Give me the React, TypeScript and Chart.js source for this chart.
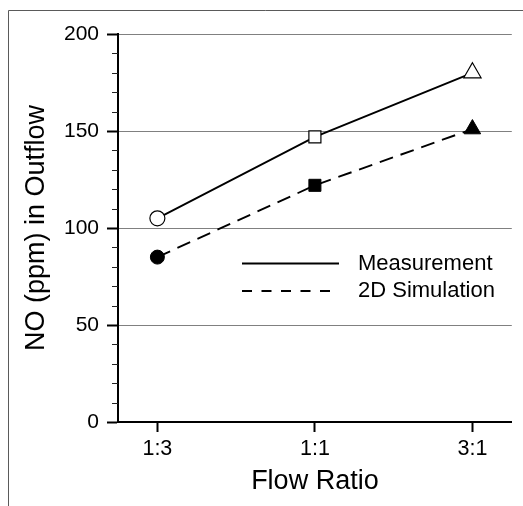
import React, { useEffect, useRef } from "react";
import { Chart, registerables } from "chart.js";

Chart.register(...registerables);

const categories = ["1:3", "1:1", "3:1"];
const measurement = [105, 147, 180];
const simulation = [85, 122, 151];
const yTicks = [0, 50, 100, 150, 200];
const seriesLabels = ["Measurement", "2D Simulation"];
const xTitle = "Flow Ratio";
const yTitle = "NO (ppm) in Outflow";

const FONT = "'Liberation Sans', Arial, sans-serif";

const framePlugin = {
  id: "frame",
  beforeDraw(chart: any) {
    const { ctx } = chart;
    ctx.save();
    ctx.strokeStyle = "#5a5a5a";
    ctx.lineWidth = 1;
    ctx.beginPath();
    ctx.moveTo(8.5, chart.height);
    ctx.lineTo(8.5, 10.5);
    ctx.lineTo(chart.width, 10.5);
    ctx.stroke();
    ctx.restore();
  },
};

const minorTickPlugin = {
  id: "minorTicks",
  afterDraw(chart: any) {
    const { ctx, chartArea } = chart;
    const y = chart.scales.y;
    ctx.save();
    ctx.strokeStyle = "#222";
    ctx.lineWidth = 1;
    for (let v = y.min; v <= y.max; v += 10) {
      if (v % 50 === 0) continue;
      const py = Math.round(y.getPixelForValue(v)) + 0.5;
      ctx.beginPath();
      ctx.moveTo(chartArea.left - 6, py);
      ctx.lineTo(chartArea.left, py);
      ctx.stroke();
    }
    ctx.restore();
  },
};

const legendPlugin = {
  id: "innerLegend",
  afterDatasetsDraw(chart: any) {
    const { ctx, chartArea } = chart;
    const x0 = chartArea.left + 124;
    const x1 = x0 + 97;
    const tx = x0 + 116;
    const rows = [chartArea.top + 229.5, chartArea.top + 257];
    const dashes = [[], [10, 9.5]];
    ctx.save();
    chart.data.datasets.forEach((ds: any, i: number) => {
      const yy = rows[i];
      ctx.strokeStyle = "#000";
      ctx.lineWidth = 1.8;
      ctx.setLineDash(dashes[i]);
      ctx.beginPath();
      ctx.moveTo(x0, yy);
      ctx.lineTo(x1, yy);
      ctx.stroke();
      ctx.setLineDash([]);
      ctx.fillStyle = "#000";
      ctx.font = `22px ${FONT}`;
      ctx.textBaseline = "middle";
      ctx.textAlign = "left";
      ctx.fillText(ds.label, tx, yy);
    });
    ctx.restore();
  },
};

export default function App() {
  const ref = useRef<HTMLCanvasElement | null>(null);

  useEffect(() => {
    if (!ref.current) return;
    const chart = new Chart(ref.current, {
      type: "line",
      data: {
        datasets: [
          {
            label: seriesLabels[0],
            data: measurement.map((v, i) => ({ x: i, y: v })),
            borderColor: "#000",
            borderWidth: 1.9,
            pointStyle: ["circle", "rect", "triangle"] as any,
            pointRadius: [7.5, 8.5, 10],
            pointBackgroundColor: "#fff",
            pointBorderColor: "#000",
            pointBorderWidth: 1.2,
            fill: false,
            tension: 0,
            clip: false as any,
          },
          {
            label: seriesLabels[1],
            data: simulation.map((v, i) => ({ x: i, y: v })),
            borderColor: "#000",
            borderWidth: 1.9,
            borderDash: [14, 8],
            pointStyle: ["circle", "rect", "triangle"] as any,
            pointRadius: [7, 8.5, 9.5],
            pointBackgroundColor: "#000",
            pointBorderColor: "#000",
            pointBorderWidth: 1,
            fill: false,
            tension: 0,
            clip: false as any,
          },
        ],
      },
      options: {
        animation: false,
        responsive: false,
        devicePixelRatio: 1,
        layout: { padding: { top: 34, right: 6, left: 0, bottom: 0 } },
        plugins: {
          legend: { display: false },
          tooltip: { enabled: false },
        },
        scales: {
          x: {
            type: "linear",
            position: "bottom",
            min: -0.25,
            max: 2.25,
            afterBuildTicks: (scale: any) => {
              scale.ticks = categories.map((_, i) => ({ value: i }));
            },
            afterFit: (scale: any) => {
              scale.height = 84;
            },
            ticks: {
              autoSkip: false,
              maxRotation: 0,
              padding: 4,
              color: "#000",
              font: { family: FONT, size: 21.5 },
              callback: (v: any) => categories[Math.round(Number(v))],
            },
            grid: {
              color: "rgba(0,0,0,0)",
              drawTicks: true,
              tickLength: 10,
              tickWidth: 2,
              tickColor: "#000",
            },
            border: { display: true, color: "#000", width: 2 },
            title: {
              display: true,
              text: xTitle,
              color: "#000",
              font: { family: FONT, size: 27 },
              padding: { top: 0, bottom: 8 },
            },
          },
          y: {
            type: "linear",
            min: 0,
            max: 200,
            afterBuildTicks: (scale: any) => {
              scale.ticks = yTicks.map((v) => ({ value: v }));
            },
            afterFit: (scale: any) => {
              scale.width = 118;
            },
            ticks: {
              padding: 8,
              color: "#000",
              font: { family: FONT, size: 21 },
            },
            grid: {
              color: (c: any) => (c.tick && c.tick.value === 0 ? "rgba(0,0,0,0)" : "#808080"),
              lineWidth: 1,
              drawTicks: true,
              tickLength: 11,
              tickWidth: 2,
              tickColor: "#000",
            },
            border: { display: true, color: "#000", width: 2 },
            title: {
              display: true,
              text: yTitle,
              color: "#000",
              font: { family: FONT, size: 27 },
              padding: { top: 20, bottom: 0 },
            },
          },
        },
      },
      plugins: [framePlugin, minorTickPlugin, legendPlugin],
    });
    return () => chart.destroy();
  }, []);

  return (
    <div style={{ position: "fixed", left: 0, top: 0, width: 523, height: 506, background: "#fff" }}>
      <canvas ref={ref} width={523} height={506} style={{ display: "block" }} />
    </div>
  );
}
